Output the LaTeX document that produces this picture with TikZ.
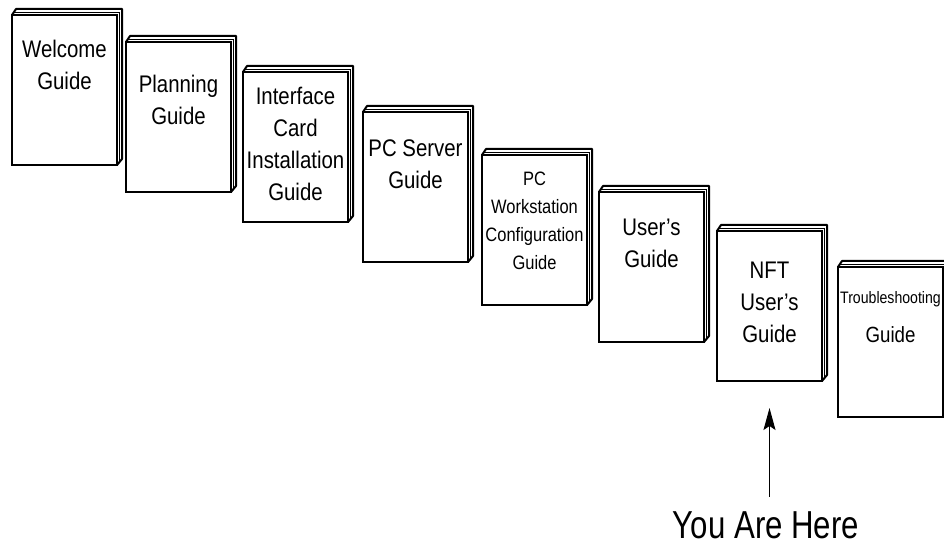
\documentclass[tikz,border=0pt]{standalone}
\usepackage{fontspec}
\usepackage{tikz}
\usetikzlibrary{arrows.meta}
\newfontfamily\bookfont{Liberation Sans}[FakeStretch=0.85]
\newfontfamily\herefont{Liberation Sans}[FakeStretch=0.8]

\begin{document}
\begin{tikzpicture}[x=0.5pt,y=-0.5pt,
		book/.style={draw,line width=0.8pt,fill=white,inner sep=0pt,outer sep=0pt,
			minimum width=52.5pt,minimum height=75pt,anchor=north west},
		spine/.style={line width=1pt,line join=round},
		pages/.style={line width=0.4pt},
		booktitle/.style={inner sep=0pt,anchor=north,align=center,font=\bookfont\fontsize{12}{16}\selectfont},
		smalltitle/.style={booktitle,font=\bookfont\fontsize{9.7}{14}\selectfont},
		tinytitle/.style={booktitle,font=\bookfont\fontsize{11}{19.5}\selectfont}]
			\useasboundingbox (0,0) rectangle (944,544);
			\foreach \name/\x/\y/\off/\sty/\txt in {
					welcome/12/15/25/booktitle/{Welcome\\Guide},
					planning/126/42/33/booktitle/{Planning\\Guide},
					interface/243/72/15/booktitle/{Interface\\Card\\Installation\\Guide},
					server/363/112/27/booktitle/{PC Server\\Guide},
					workstation/482/155/17/smalltitle/{PC\\Workstation\\Configuration\\Guide},
					users/599/192/27/booktitle/{User’s\\Guide},
					nft/717/231/31/booktitle/{NFT\\User’s\\Guide},
					trouble/838/267/24/tinytitle/{{\fontsize{8.3}{8}\selectfont Troubleshooting}\\Guide}} {
				\node[book] (\name) at (\x,\y) {};
				\draw[spine] (\name.north west) -- ++(4,-6) -- ([shift={(5,-6)}]\name.north east)
					-- ([shift={(5,-6)}]\name.south east) -- (\name.south east);
				\draw[pages] ([shift={(2,-3)}]\name.north west) -- ([shift={(2.5,-3)}]\name.north east)
					-- ([shift={(2.5,-3)}]\name.south east);
				\path (\name.north) ++(0,\off) node[\sty] (\name-t) {\txt};
			}
			\node[font=\herefont\fontsize{19.5}{20}\selectfont,inner sep=0pt,anchor=north] (here) at (766,511) {You Are Here};
			\draw[line width=0.5pt,-{Stealth[length=11pt,width=6pt,inset=2pt]},shorten <=7pt,shorten >=13.5pt]
				(here.north -| nft.south) -- (nft.south);
		\end{tikzpicture}
\end{document}
